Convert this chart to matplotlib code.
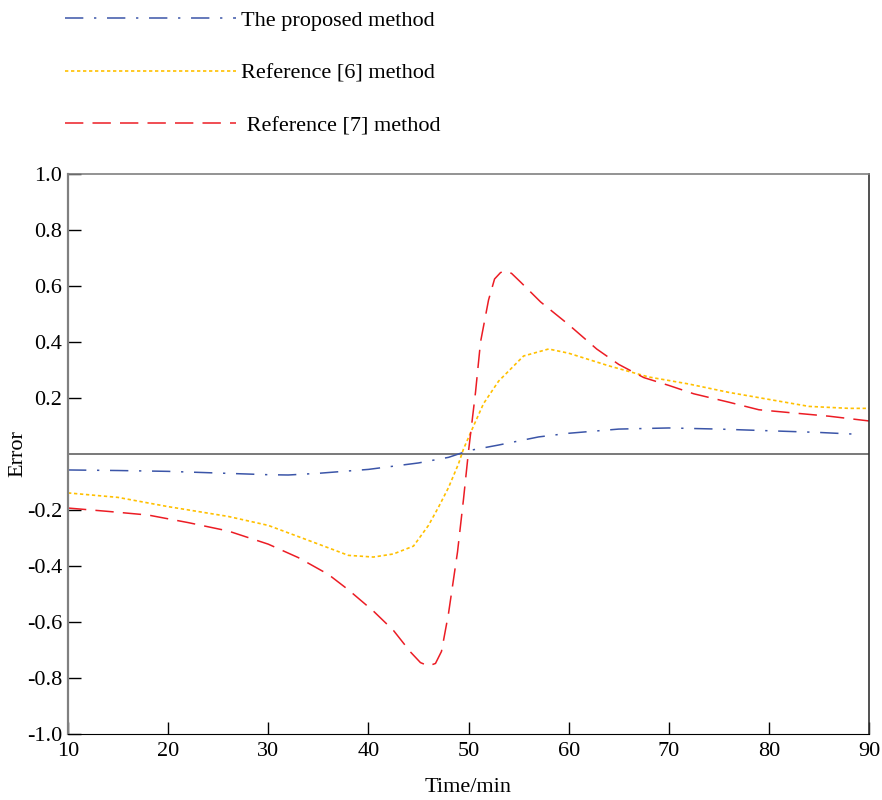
import matplotlib
matplotlib.use("Agg")
import matplotlib.pyplot as plt

plt.rcParams["font.family"] = ["Liberation Serif", "DejaVu Serif"]
plt.rcParams["font.size"] = 16

# values
prop_x = [10, 15, 20, 25, 30, 32, 35, 40, 45, 48, 50, 53, 57, 60, 65, 70, 75, 80, 85, 88.5]
prop_y = [-0.057, -0.059, -0.062, -0.068, -0.074, -0.075, -0.069, -0.055, -0.032, -0.012,
          0.012, 0.032, 0.061, 0.074, 0.089, 0.093, 0.089, 0.083, 0.077, 0.071]

ref6_x = [10, 15, 20, 26, 30, 33, 36, 38, 40.5, 42.5, 44.5, 46, 47, 48, 49, 49.5, 50.5,
          51.5, 53, 55.5, 58, 60, 64, 68, 72, 76, 80, 84, 88, 90]
ref6_y = [-0.139, -0.155, -0.188, -0.223, -0.255, -0.295, -0.335, -0.362, -0.368, -0.357,
          -0.329, -0.255, -0.19, -0.12, -0.035, 0.018, 0.10, 0.18, 0.26, 0.35, 0.375, 0.36,
          0.315, 0.275, 0.25, 0.22, 0.195, 0.17, 0.163, 0.163]

ref7_x = [10, 14, 18, 22, 26, 30, 33, 36, 38, 40.5, 42.5, 44.2, 45.2, 46, 46.7, 47.3, 48,
          48.9, 49.5, 50, 50.7, 51.2, 52, 52.6, 53.2, 53.7, 54.3, 55.2, 57.2, 60, 62.8, 65,
          67.5, 70, 72.5, 76, 79, 82, 86, 90]
ref7_y = [-0.193, -0.205, -0.218, -0.245, -0.275, -0.322, -0.37, -0.43, -0.485, -0.561,
          -0.63, -0.707, -0.745, -0.757, -0.748, -0.705, -0.57, -0.35, -0.161, 0.01, 0.221,
          0.40, 0.55, 0.625, 0.648, 0.654, 0.645, 0.614, 0.543, 0.462, 0.375, 0.32, 0.273,
          0.245, 0.215, 0.185, 0.158, 0.148, 0.135, 0.118]

x_ticks = [10, 20, 30, 40, 50, 60, 70, 80, 90]
y_ticks = [-1.0, -0.8, -0.6, -0.4, -0.2, 0.2, 0.4, 0.6, 0.8, 1.0]

fig = plt.figure(figsize=(8.82, 8.0), dpi=100)
ax = fig.add_axes([0.0771, 0.0825, 0.9082, 0.7])

ax.axhline(0, color="#6e6e6e", lw=1.3, zorder=1)
l1, = ax.plot(prop_x, prop_y, color="#3b55a8", lw=1.1,
              dashes=(12, 7, 1.5, 7), label="The proposed method")
l2, = ax.plot(ref6_x, ref6_y, color="#ffc000", lw=1.2,
              dashes=(2, 1.6), label="Reference [6] method")
l3, = ax.plot(ref7_x, ref7_y, color="#ec1c24", lw=1.1,
              dashes=(12, 6), label=" Reference [7] method")

ax.set_xlim(10, 90)
ax.set_ylim(-1.0, 1.0)
ax.set_xticks(x_ticks)
ax.set_yticks(y_ticks)
ax.set_yticklabels([f"{v:.1f}" for v in y_ticks])
ax.tick_params(direction="in", length=9, width=1, labelsize=16)
ax.tick_params(axis="y", pad=4)
ax.tick_params(axis="x", pad=6)

ax.spines["left"].set_color("#808080")
ax.spines["left"].set_linewidth(1.6)
ax.spines["top"].set_color("#808080")
ax.spines["top"].set_linewidth(1.2)
ax.spines["bottom"].set_color("black")
ax.spines["right"].set_color("#333333")
ax.spines["right"].set_linewidth(1.2)

ax.set_xlabel("Time/min", fontsize=16, labelpad=12)
ax.set_ylabel("Error", fontsize=16, labelpad=0)

fig.legend(handles=[l1, l2, l3], loc="upper left",
           bbox_to_anchor=(65 / 882, 1 - 10 / 800), frameon=False,
           handlelength=7.7, handletextpad=0.2, labelspacing=1.45,
           borderpad=0, borderaxespad=0, fontsize=16)

fig.savefig("out.png", dpi=100)
